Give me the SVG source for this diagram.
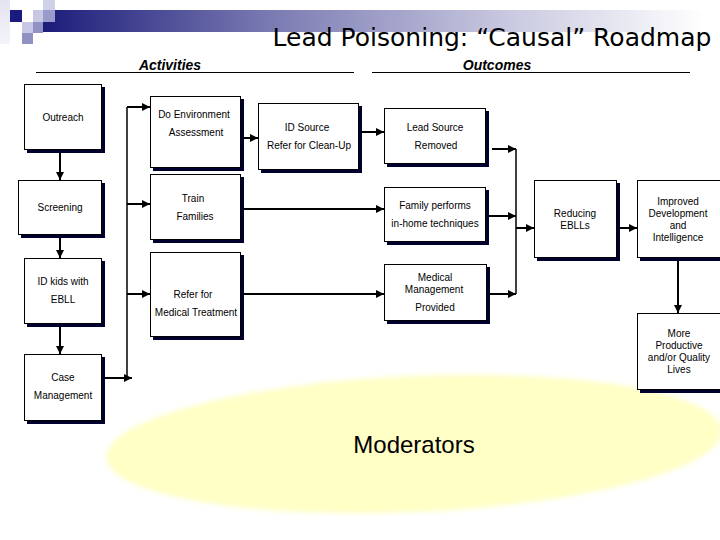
<svg xmlns="http://www.w3.org/2000/svg" width="720" height="540" viewBox="0 0 720 540">
<style>
.box{fill:#ffffff;stroke:#000000;stroke-width:1}
.sh{fill:#00002e}
.t{font-family:"Liberation Sans",Arial,sans-serif;font-size:10px;fill:#000000;text-anchor:middle}
.hd{font-family:"Liberation Sans",Arial,sans-serif;font-size:14px;font-weight:bold;font-style:italic;fill:#000000;text-anchor:middle}
.c{stroke:#000000;stroke-width:2;fill:none}
.bus{stroke:#000000;stroke-width:1.5;fill:none}
.a{marker-end:url(#ah)}
</style>
<defs>
<marker id="ah" markerUnits="userSpaceOnUse" markerWidth="8" markerHeight="8" refX="8" refY="4" orient="auto">
<path d="M0,0 L8,4 L0,8 z" fill="#000000"/>
</marker>
<linearGradient id="bar" x1="43" y1="0" x2="705" y2="0" gradientUnits="userSpaceOnUse">
<stop offset="0" stop-color="#1c1c7a"/>
<stop offset="0.35" stop-color="#7c7cb4"/>
<stop offset="0.7" stop-color="#c8c8e0"/>
<stop offset="1" stop-color="#ffffff"/>
</linearGradient>
<linearGradient id="lcol" x1="0" y1="0" x2="0" y2="1">
<stop offset="0" stop-color="#e4e4f2"/>
<stop offset="1" stop-color="#f4f4fa"/>
</linearGradient>
<filter id="soft" x="-5%" y="-10%" width="110%" height="120%">
<feGaussianBlur stdDeviation="2.5"/>
</filter>
</defs>
<rect width="720" height="540" fill="#ffffff"/>
<g id="header">
<rect x="0" y="0" width="10" height="44" fill="url(#lcol)"/>
<rect x="43" y="10" width="677" height="22" fill="url(#bar)"/>
<rect x="10" y="10" width="12" height="12" fill="#1a1a80"/>
<rect x="33" y="10" width="10" height="12" fill="#c8c8e4"/>
<rect x="43" y="0" width="12" height="10" fill="#d0d0e8"/>
<rect x="43" y="10" width="12" height="12" fill="#9a9acc"/>
<rect x="22" y="22" width="11" height="11" fill="#c8c8e6"/>
<rect x="33" y="22" width="10" height="11" fill="#9292c6"/>
<rect x="22" y="33" width="11" height="11" fill="#9090c2"/>
<text x="492" y="46" font-family="'DejaVu Sans',Verdana,sans-serif" font-size="25" text-anchor="middle" fill="#000000">Lead Poisoning: “Causal” Roadmap</text>
<text class="hd" x="170" y="70">Activities</text>
<text class="hd" x="497" y="70">Outcomes</text>
<line x1="36" y1="72.5" x2="354" y2="72.5" stroke="#000000" stroke-width="1"/>
<line x1="372" y1="72.5" x2="690" y2="72.5" stroke="#000000" stroke-width="1"/>
</g>
<g id="moderators">
<ellipse cx="414" cy="444" rx="308" ry="68" transform="rotate(-2.5 414 444)" fill="#ffffc6" filter="url(#soft)"/>
<text x="414" y="453" font-family="'Liberation Sans',Arial,sans-serif" font-size="24" text-anchor="middle" fill="#000000">Moderators</text>
</g>
<g id="connectors">
<line class="c a" x1="60" y1="152" x2="60" y2="180"/>
<line class="c a" x1="60" y1="237" x2="60" y2="258"/>
<line class="c a" x1="60" y1="326" x2="60" y2="354"/>
<line class="c a" x1="104" y1="378" x2="132" y2="378"/>
<line class="bus" x1="127" y1="107" x2="127" y2="378"/>
<line class="c a" x1="127" y1="107" x2="150" y2="107"/>
<line class="c a" x1="127" y1="204" x2="150" y2="204"/>
<line class="c a" x1="127" y1="294" x2="150" y2="294"/>
<line class="c a" x1="243" y1="138" x2="258" y2="138"/>
<line class="c a" x1="361" y1="132" x2="384" y2="132"/>
<line class="c a" x1="243" y1="209" x2="384" y2="209"/>
<line class="c a" x1="243" y1="294" x2="384" y2="294"/>
<line class="c a" x1="492" y1="149" x2="516" y2="149"/>
<line class="c a" x1="489" y1="216" x2="516" y2="216"/>
<line class="c a" x1="490" y1="294" x2="516" y2="294"/>
<line class="bus" x1="516" y1="149" x2="516" y2="294"/>
<line class="c a" x1="516" y1="228" x2="534" y2="228"/>
<line class="c a" x1="619" y1="228" x2="637" y2="228"/>
<line class="c a" x1="678" y1="261" x2="678" y2="313"/>
</g>
<g id="outreach">
<rect class="sh" x="27" y="87" width="78" height="66"/>
<rect class="box" x="24.5" y="84.5" width="77" height="65"/>
<text class="t" x="63" y="121">Outreach</text>
</g>
<g id="screening">
<rect class="sh" x="21" y="183" width="84" height="55"/>
<rect class="box" x="18.5" y="180.5" width="83" height="54"/>
<text class="t" x="60" y="211">Screening</text>
</g>
<g id="idkids">
<rect class="sh" x="27" y="261" width="78" height="66"/>
<rect class="box" x="24.5" y="258.5" width="77" height="65"/>
<text class="t" x="63" y="285">ID kids with</text>
<text class="t" x="63" y="303">EBLL</text>
</g>
<g id="case">
<rect class="sh" x="27" y="357" width="78" height="67"/>
<rect class="box" x="24.5" y="354.5" width="77" height="66"/>
<text class="t" x="63" y="381">Case</text>
<text class="t" x="63" y="399">Management</text>
</g>
<g id="doenv">
<rect class="sh" x="153" y="99" width="91" height="72"/>
<rect class="box" x="150.5" y="96.5" width="90" height="71"/>
<text class="t" x="194" y="118">Do Environment</text>
<text class="t" x="196" y="136">Assessment</text>
</g>
<g id="train">
<rect class="sh" x="153" y="177" width="91" height="66"/>
<rect class="box" x="150.5" y="174.5" width="90" height="65"/>
<text class="t" x="193" y="202">Train</text>
<text class="t" x="195" y="220">Families</text>
</g>
<g id="refer">
<rect class="sh" x="153" y="255" width="91" height="85"/>
<rect class="box" x="150.5" y="252.5" width="90" height="84"/>
<text class="t" x="193" y="298">Refer for</text>
<text class="t" x="196" y="316">Medical Treatment</text>
</g>
<g id="idsource">
<rect class="sh" x="261" y="106" width="101" height="67"/>
<rect class="box" x="258.5" y="103.5" width="100" height="66"/>
<text class="t" x="307" y="131">ID Source</text>
<text class="t" x="309" y="149">Refer for Clean-Up</text>
</g>
<g id="leadsource">
<rect class="sh" x="387" y="111" width="102" height="56"/>
<rect class="box" x="384.5" y="108.5" width="101" height="55"/>
<text class="t" x="435" y="131">Lead Source</text>
<text class="t" x="436" y="149">Removed</text>
</g>
<g id="family">
<rect class="sh" x="387" y="190" width="102" height="55"/>
<rect class="box" x="384.5" y="187.5" width="101" height="54"/>
<text class="t" x="435" y="209">Family performs</text>
<text class="t" x="435" y="227">in-home techniques</text>
</g>
<g id="medical">
<rect class="sh" x="387" y="267" width="103" height="57"/>
<rect class="box" x="384.5" y="264.5" width="102" height="56"/>
<text class="t" x="435" y="281">Medical</text>
<text class="t" x="434" y="293">Management</text>
<text class="t" x="435" y="311">Provided</text>
</g>
<g id="reducing">
<rect class="sh" x="537" y="183" width="83" height="78"/>
<rect class="box" x="534.5" y="180.5" width="82" height="77"/>
<text class="t" x="575" y="217">Reducing</text>
<text class="t" x="575" y="229">EBLLs</text>
</g>
<g id="improved">
<rect class="sh" x="640" y="183" width="90" height="78"/>
<rect class="box" x="637.5" y="180.5" width="90" height="77"/>
<text class="t" x="678" y="205">Improved</text>
<text class="t" x="678" y="217">Development</text>
<text class="t" x="678" y="229">and</text>
<text class="t" x="678" y="241">Intelligence</text>
</g>
<g id="more">
<rect class="sh" x="640" y="316" width="90" height="77"/>
<rect class="box" x="637.5" y="313.5" width="90" height="76"/>
<text class="t" x="679" y="337">More</text>
<text class="t" x="679" y="349">Productive</text>
<text class="t" x="679" y="361">and/or Quality</text>
<text class="t" x="679" y="373">Lives</text>
</g>
</svg>
